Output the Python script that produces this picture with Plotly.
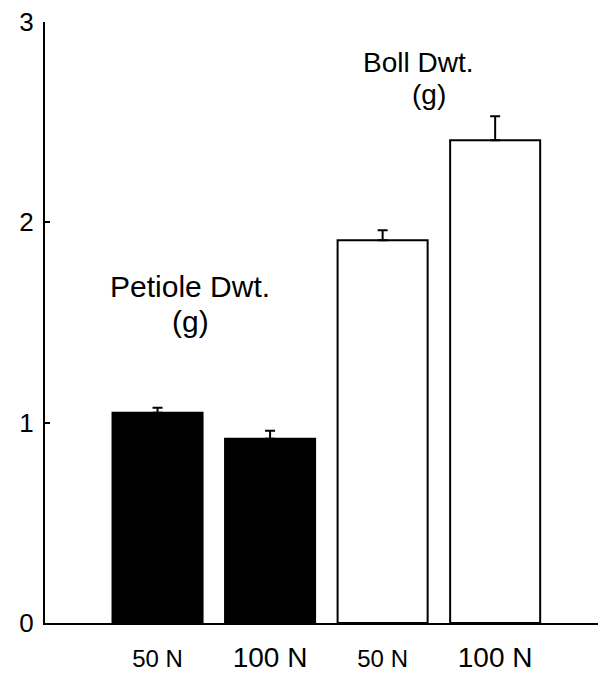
import plotly.graph_objects as go

categories = ["P50", "P100", "B50", "B100"]
tick_labels = ["50 N", "100 N", "50 N", "100 N"]
values = [1.05, 0.92, 1.91, 2.41]
errors = [0.024, 0.04, 0.05, 0.12]
fill_colors = ["black", "black", "white", "white"]

x_pos = list(range(len(categories)))

fig = go.Figure()
fig.add_trace(go.Bar(
    x=x_pos, y=values, width=0.8,
    marker=dict(color=fill_colors, line=dict(color="black", width=2)),
    error_y=dict(type="data", symmetric=False, array=errors,
                 arrayminus=[0] * len(errors), color="black", thickness=2, width=5),
    showlegend=False,
))

font_fam = "Arial, Liberation Sans, sans-serif"
sizes = [24, 28, 24, 28]
ticktext = [f'<span style="font-size:{s}px">{t}</span>' for t, s in zip(tick_labels, sizes)]

fig.update_layout(
    width=598, height=665,
    margin=dict(l=37, r=0, t=14, b=50, autoexpand=False),
    paper_bgcolor="white", plot_bgcolor="white",
    font=dict(family=font_fam, color="black"),
    xaxis=dict(range=[-1, 3.985], tickmode="array", tickvals=x_pos, ticktext=ticktext,
               showline=True, linecolor="black", linewidth=2, ticks="",
               showgrid=False, zeroline=False, ticklabelstandoff=8,
               automargin=False, ticklabeloverflow="allow",
               tickfont=dict(size=28, family=font_fam, color="black")),
    yaxis=dict(range=[0, 3], tickvals=[0, 1, 2, 3], ticks="inside", ticklen=5,
               tickwidth=2, tickcolor="black",
               showline=True, linecolor="black", linewidth=2,
               showgrid=False, zeroline=False, ticklabelstandoff=4,
               automargin=False, ticklabeloverflow="allow",
               tickfont=dict(size=26, family=font_fam, color="black")),
    annotations=[
        dict(x=0.29, y=1.678, xref="x", yref="y", text="Petiole Dwt.",
             showarrow=False, font=dict(size=30, family=font_fam, color="black")),
        dict(x=0.29, y=1.503, xref="x", yref="y", text="(g)",
             showarrow=False, font=dict(size=30, family=font_fam, color="black")),
        dict(x=2.315, y=2.80, xref="x", yref="y", text="Boll Dwt.",
             showarrow=False, font=dict(size=28, family=font_fam, color="black")),
        dict(x=2.41, y=2.64, xref="x", yref="y", text="(g)",
             showarrow=False, font=dict(size=28, family=font_fam, color="black")),
    ],
)

fig.write_html("out.html")
